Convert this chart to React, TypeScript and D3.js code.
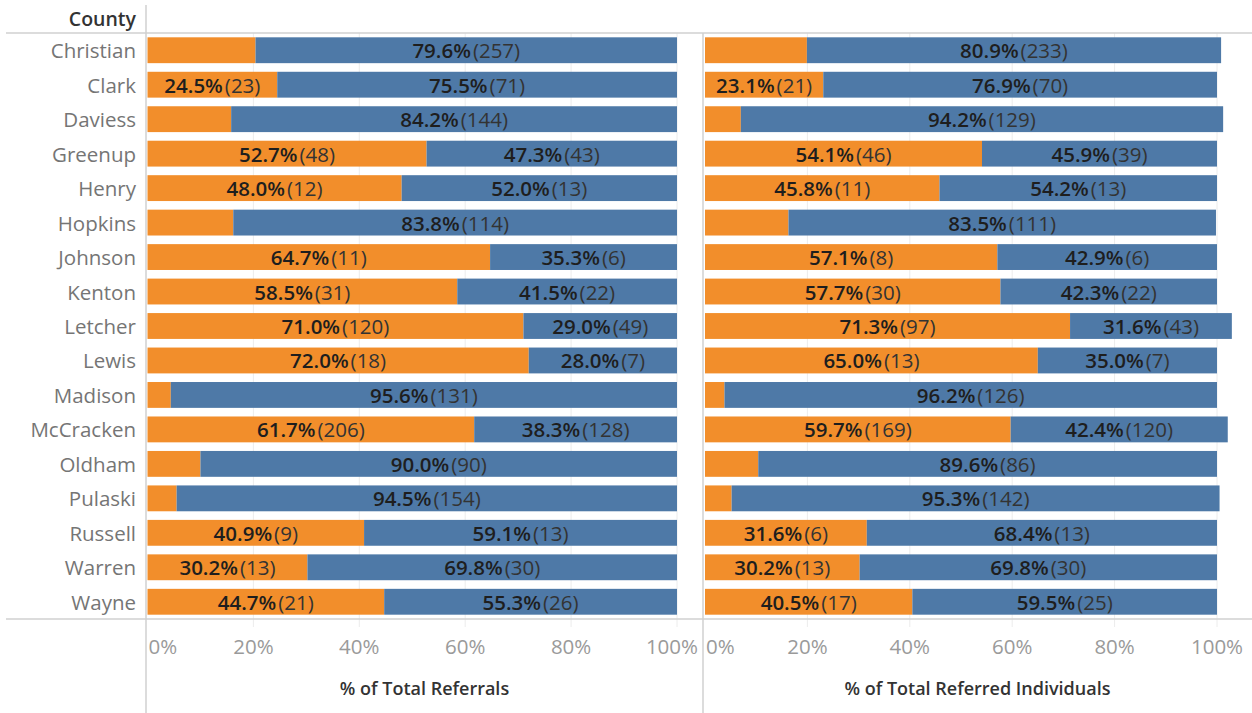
import React from "react";
import * as d3 from "d3";

const counties = ["Christian","Clark","Daviess","Greenup","Henry","Hopkins","Johnson","Kenton","Letcher","Lewis","Madison","McCracken","Oldham","Pulaski","Russell","Warren","Wayne"];

// % of Total Referrals
const refOrangePct = [20.4,24.5,15.8,52.7,48.0,16.2,64.7,58.5,71.0,72.0,4.4,61.7,10.0,5.5,40.9,30.2,44.7];
const refOrangeN = [66,23,27,48,12,22,11,31,120,18,6,206,10,9,9,13,21];
const refBluePct = [79.6,75.5,84.2,47.3,52.0,83.8,35.3,41.5,29.0,28.0,95.6,38.3,90.0,94.5,59.1,69.8,55.3];
const refBlueN = [257,71,144,43,13,114,6,22,49,7,131,128,90,154,13,30,26];

// % of Total Referred Individuals
const indOrangePct = [19.9,23.1,7.0,54.1,45.8,16.3,57.1,57.7,71.3,65.0,3.8,59.7,10.4,5.2,31.6,30.2,40.5];
const indOrangeN = [57,21,10,46,11,22,8,30,97,13,5,169,10,7,6,13,17];
const indBluePct = [80.9,76.9,94.2,45.9,54.2,83.5,42.9,42.3,31.6,35.0,96.2,42.4,89.6,95.3,68.4,69.8,59.5];
const indBlueN = [233,70,129,39,13,111,6,22,43,7,126,120,86,142,13,30,25];

const tickValues = [0,20,40,60,80,100];
const panelTitles = ["% of Total Referrals","% of Total Referred Individuals"];

const ORANGE = "#F28E2B";
const BLUE = "#4E79A7";
const FONT = "'Open Sans', sans-serif";

const W = 1252, H = 713;
const TOP = 33, BOTTOM = 619;
const AXIS_X = 146, DIVIDER_X = 703;

const y = d3.scaleBand<string>().domain(counties).range([TOP, BOTTOM]).paddingInner(0.25).paddingOuter(0.125);

const panels = [
  { title: panelTitles[0], x: d3.scaleLinear().domain([0,100]).range([147.5,677]), oP: refOrangePct, oN: refOrangeN, bP: refBluePct, bN: refBlueN, area: [AXIS_X, DIVIDER_X] },
  { title: panelTitles[1], x: d3.scaleLinear().domain([0,100]).range([705,1217]), oP: indOrangePct, oN: indOrangeN, bP: indBluePct, bN: indBlueN, area: [DIVIDER_X, W] },
];

function Label({ cx, cy, pct, n }: { cx: number; cy: number; pct: number; n: number }) {
  return (
    <text x={cx} y={cy} textAnchor="middle" dominantBaseline="central" fontFamily={FONT} fontSize={20.5}>
      <tspan fill="#1e1e1e" fontWeight={600}>{pct.toFixed(1)}%</tspan>
      <tspan fill="#333" dx={2}>({n})</tspan>
    </text>
  );
}

export default function App() {
  const bh = y.bandwidth();
  return (
    <svg width={W} height={H} style={{ position: "absolute", left: 0, top: 0, background: "#fff" }}>
      {panels.map((p, pi) =>
        tickValues.slice(1).map((t) => (
          <line key={`g${pi}-${t}`} x1={p.x(t)} x2={p.x(t)} y1={TOP} y2={BOTTOM + 8} stroke="#ececec" strokeWidth={1} />
        ))
      )}
      <line x1={6} x2={W} y1={TOP} y2={TOP} stroke="#d0d0d0" strokeWidth={1.5} />
      <line x1={6} x2={W} y1={BOTTOM} y2={BOTTOM} stroke="#d0d0d0" strokeWidth={1.5} />
      <line x1={AXIS_X} x2={AXIS_X} y1={5} y2={H} stroke="#d0d0d0" strokeWidth={1.5} />
      <line x1={DIVIDER_X} x2={DIVIDER_X} y1={TOP} y2={H} stroke="#d0d0d0" strokeWidth={1.5} />

      <text x={136} y={18} textAnchor="end" dominantBaseline="central" fontFamily={FONT} fontSize={19.5} fontWeight={600} fill="#333">County</text>

      {counties.map((c) => (
        <text key={c} x={136} y={(y(c) as number) + bh / 2} textAnchor="end" dominantBaseline="central" fontFamily={FONT} fontSize={20.5} fill="#757575">{c}</text>
      ))}

      {panels.map((p, pi) => (
        <g key={pi}>
          {counties.map((c, i) => {
            const y0 = y(c) as number;
            const x0 = p.x(0);
            const xo = p.x(p.oP[i]);
            const xb = p.x(p.oP[i] + p.bP[i]);
            const cy = y0 + bh / 2;
            return (
              <g key={c}>
                <rect x={x0} y={y0} width={xo - x0} height={bh} fill={ORANGE} />
                <rect x={xo} y={y0} width={xb - xo} height={bh} fill={BLUE} />
                {xo - x0 >= 112 && <Label cx={(x0 + xo) / 2} cy={cy} pct={p.oP[i]} n={p.oN[i]} />}
                {xb - xo >= 112 && <Label cx={(xo + xb) / 2} cy={cy} pct={p.bP[i]} n={p.bN[i]} />}
              </g>
            );
          })}
          {tickValues.map((t, ti) => {
            const first = ti === 0, last = ti === tickValues.length - 1;
            const tx = first ? p.x(t) + 1 : last && pi === 0 ? p.area[1] - 5 : p.x(t);
            const anchor = first ? "start" : last && pi === 0 ? "end" : "middle";
            return (
              <text key={t} x={tx} y={646} textAnchor={anchor} dominantBaseline="central" fontFamily={FONT} fontSize={20.5} fill="#9a9a9a">{t}%</text>
            );
          })}
          <text x={(p.area[0] + p.area[1]) / 2} y={688} textAnchor="middle" dominantBaseline="central" fontFamily={FONT} fontSize={18} fontWeight={600} fill="#333">{p.title}</text>
        </g>
      ))}
    </svg>
  );
}
